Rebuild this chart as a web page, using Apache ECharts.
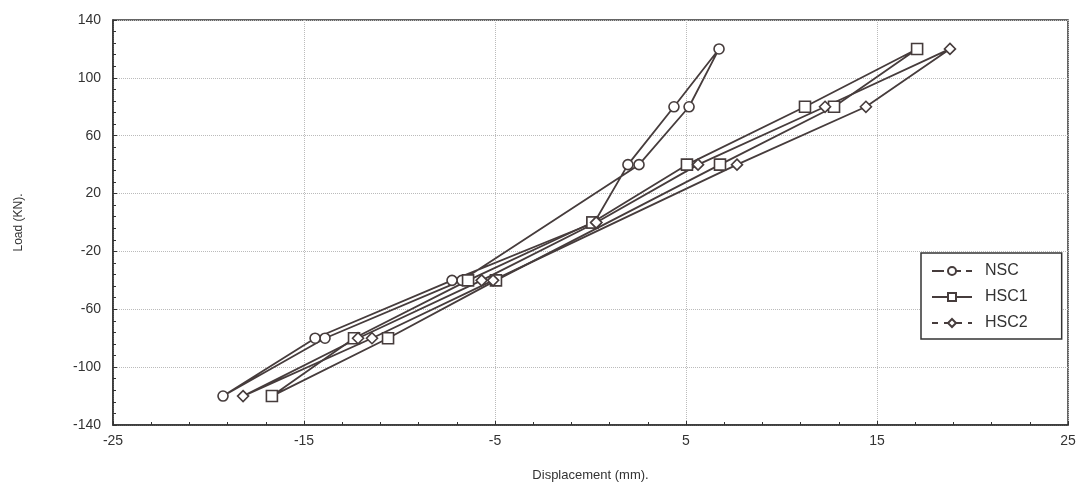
<!DOCTYPE html>
<html>
<head>
<meta charset="utf-8">
<script src="https://cdn.jsdelivr.net/npm/echarts@6/dist/echarts.min.js"></script>
<style>
html,body{margin:0;padding:0;background:#fff;}
#chart{width:1090px;height:487px;}
</style>
</head>
<body>
<div id="chart"></div>
<script>
// Data (displacement mm, load kN)
const nscDisp  = [0.2, 1.96, 4.37, 6.73, 5.16, 2.54, -6.73, -13.9, -19.24, -14.42, -7.25, 0.2];
const nscLoad  = [0, 40, 80, 120, 80, 40, -40, -80, -120, -80, -40, 0];
const hsc1Disp = [0.1, 5.05, 11.23, 17.1, 12.75, 6.78, -4.95, -10.6, -16.68, -12.38, -6.41, 0.1];
const hsc1Load = [0, 40, 80, 120, 80, 40, -40, -80, -120, -80, -40, 0];
const hsc2Disp = [0.3, 5.63, 12.28, 18.82, 14.42, 7.67, -5.1, -11.44, -18.19, -12.17, -5.7, 0.3];
const hsc2Load = [0, 40, 80, 120, 80, 40, -40, -80, -120, -80, -40, 0];
const seriesNames = ['NSC', 'HSC1', 'HSC2'];
const xTicks = [-25, -15, -5, 5, 15, 25];
const yTicks = [-140, -100, -60, -20, 20, 60, 100, 140];

const lineColor = '#463c3c';
function pts(xs, ys){ return xs.map((x,i)=>[x, ys[i]]); }

const chart = echarts.init(document.getElementById('chart'), null, {renderer:'canvas'});
const baseFont = 'Liberation Sans, Arial, sans-serif';
function series(name, data, symbol, size){
  return {
    name, type:'line', data, symbol, symbolSize:size, showSymbol:true,
    lineStyle:{color:lineColor, width:1.8},
    itemStyle:{color:'#fff', borderColor:lineColor, borderWidth:1.6},
    emphasis:{disabled:true}, animation:false, z:3
  };
}
const option = {
  animation:false,
  backgroundColor:'#fff',
  grid:{left:113, right:22, top:20, bottom:61, show:true, borderColor:'#333', borderWidth:1.5, backgroundColor:'transparent'},
  xAxis:{
    type:'value', min:xTicks[0], max:xTicks[xTicks.length-1], interval:10,
    name:'Displacement (mm).', nameLocation:'middle', nameGap:44,
    nameTextStyle:{fontFamily:baseFont, fontSize:13, color:'#333'},
    axisLine:{show:true, onZero:false, lineStyle:{color:'#333', width:1.5}},
    axisTick:{show:true, inside:true, length:4, lineStyle:{color:'#333'}},
    minorTick:{show:true, splitNumber:5, length:3, lineStyle:{color:'#333'}},
    axisLabel:{fontFamily:baseFont, fontSize:14, color:'#333', margin:9},
    splitLine:{show:true, lineStyle:{color:'#bbb', type:'dotted', width:1}}
  },
  yAxis:{
    type:'value', min:yTicks[0], max:yTicks[yTicks.length-1], interval:40,
    name:'Load (KN).', nameLocation:'middle', nameGap:88, nameRotate:90,
    nameTextStyle:{fontFamily:baseFont, fontSize:12, color:'#333'},
    axisLine:{show:true, onZero:false, lineStyle:{color:'#333', width:1.5}},
    axisTick:{show:true, inside:true, length:4, lineStyle:{color:'#333'}},
    minorTick:{show:true, splitNumber:5, length:3, lineStyle:{color:'#333'}},
    axisLabel:{fontFamily:baseFont, fontSize:14, color:'#333', margin:12},
    splitLine:{show:true, lineStyle:{color:'#bbb', type:'dotted', width:1}}
  },
  legend:{
    orient:'vertical', left:921, top:253,
    backgroundColor:'#fff', borderColor:'#333', borderWidth:1.5,
    padding:[10,34,8,10], itemGap:10, itemWidth:40, itemHeight:10,
    textStyle:{fontFamily:baseFont, fontSize:16, color:'#333', padding:[0,0,0,8]},
    data:[
      {name:seriesNames[0], lineStyle:{type:[12,5], width:1.8}},
      {name:seriesNames[1]},
      {name:seriesNames[2], lineStyle:{type:[6,6], width:1.8}}
    ]
  },
  series:[
    series(seriesNames[0], pts(nscDisp, nscLoad), 'circle', 10),
    series(seriesNames[1], pts(hsc1Disp, hsc1Load), 'rect', 11),
    series(seriesNames[2], pts(hsc2Disp, hsc2Load), 'diamond', 11)
  ]
};
chart.setOption(option);
</script>
</body>
</html>
